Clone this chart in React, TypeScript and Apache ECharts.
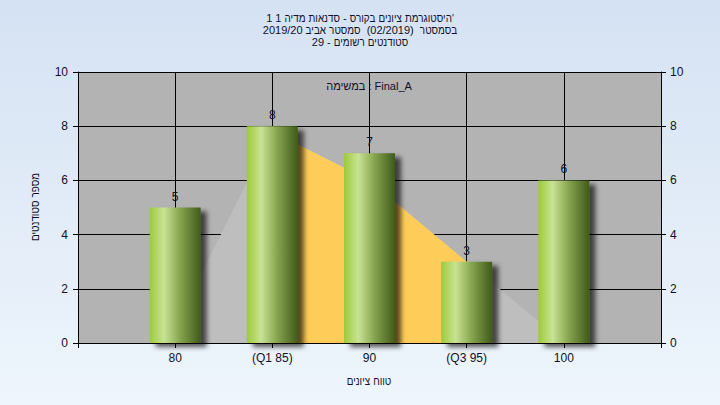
import React, { useEffect, useRef } from "react";
import * as echarts from "echarts";

// Text lines as tokens, listed in the left-to-right order in which they are drawn
// (the reference lays its Hebrew out right to left).
const titleLine1 = ["1", "1", "מדיה", "סדנאות", "-", "בקורס", "ציונים", "היסטוגרמת'"];
const titleLine2 = ["2019/20", "אביב", "סמסטר", "", "(02/2019)", "", "בסמסטר"];
const titleLine3 = ["29", "-", "רשומים", "סטודנטים"];
const legendText = "במשימה : Final_A";
const xAxisNameWords = ["ציונים", "טווח"];
const yAxisNameWords = ["סטודנטים", "מספר"];

const gradeValues = [80, 85, 90, 95, 100];
const gradeLabels = ["80", "(Q1 85)", "90", "(Q3 95)", "100"];
const studentCounts = [5, 8, 7, 3, 6];
const curveValues = [0.64, 7.8, 6.0, 3.0, 0.03];
const iqrGrades = [85, 90, 95];

const FONT = "Liberation Sans";
const TXT = "#10102a";
const HEB_SCALE = 0.9;

function wordRow(
  ctx: CanvasRenderingContext2D,
  words: string[],
  fontSize: number,
  cx: number,
  cy: number
) {
  ctx.font = `${fontSize}px "${FONT}"`;
  const space = ctx.measureText(" ").width;
  const isHeb = (w: string) => /[\u0590-\u05FF]/.test(w);
  const widths = words.map((w) => ctx.measureText(w).width * (isHeb(w) ? HEB_SCALE : 1));
  const total = widths.reduce((a, b) => a + b, 0) + space * (words.length - 1);
  let x = cx - total / 2;
  const out: any[] = [];
  words.forEach((w, i) => {
    if (w) {
      out.push({
        type: "text",
        x,
        y: cy,
        z: 100,
        scaleX: isHeb(w) ? HEB_SCALE : 1,
        style: {
          text: w,
          fontSize,
          fontFamily: FONT,
          fill: TXT,
          textAlign: "left",
          textVerticalAlign: "middle",
        },
      });
    }
    x += widths[i] + space;
  });
  return out;
}

export default function App() {
  const ref = useRef<HTMLDivElement>(null);
  useEffect(() => {
    if (!ref.current) return;
    const chart = echarts.init(ref.current, null, { renderer: "svg" });
    const ctx = document.createElement("canvas").getContext("2d") as CanvasRenderingContext2D;
    const labelMap: Record<string, string> = {};
    gradeValues.forEach((g, i) => (labelMap[String(g)] = gradeLabels[i]));
    const curveData = gradeValues.map((g, i) => [g, curveValues[i]]);
    const iqrData = gradeValues
      .map((g, i) => [g, curveValues[i]])
      .filter((d) => iqrGrades.includes(d[0]));
    const barData = gradeValues.map((g, i) => [g, studentCounts[i]]);

    const graphics: any[] = [
      ...wordRow(ctx, titleLine1, 11, 360, 18),
      ...wordRow(ctx, titleLine2, 11, 360, 30),
      ...wordRow(ctx, titleLine3, 11, 360, 42),
      ...wordRow(ctx, xAxisNameWords, 11, 369, 381),
      {
        type: "group",
        x: 35,
        y: 207,
        rotation: Math.PI / 2,
        children: wordRow(ctx, yAxisNameWords, 11, 0, 0),
      },
      {
        type: "text",
        x: 369,
        y: 86,
        z: 100,
        style: {
          text: legendText,
          fontSize: 11,
          fontFamily: FONT,
          fill: TXT,
          textAlign: "center",
          textVerticalAlign: "middle",
        },
      },
    ];

    chart.setOption({
      animation: false,
      backgroundColor: "transparent",
      textStyle: { fontFamily: FONT },
      graphic: graphics,
      grid: {
        left: 78,
        right: 59,
        top: 72,
        bottom: 62,
        show: true,
        backgroundColor: "#b3b3b3",
        borderWidth: 0,
      },
      xAxis: {
        type: "value",
        min: 75,
        max: 105,
        interval: 5,
        axisLine: { show: true, lineStyle: { color: "#000", width: 1 } },
        axisTick: { show: true, length: 5, lineStyle: { color: "#000" } },
        axisLabel: {
          margin: 9,
          fontSize: 12,
          color: TXT,
          fontFamily: FONT,
          formatter: (v: number) => labelMap[String(v)] ?? "",
        },
        splitLine: { show: true, lineStyle: { color: "#000", width: 1 } },
      },
      yAxis: [
        {
          type: "value",
          min: 0,
          max: 10,
          interval: 2,
          position: "left",
          axisLine: { show: true, lineStyle: { color: "#000", width: 1 } },
          axisTick: { show: true, length: 5, lineStyle: { color: "#000" } },
          axisLabel: { margin: 10, fontSize: 12, color: TXT, fontFamily: FONT },
          splitLine: { show: true, lineStyle: { color: "#000", width: 1 } },
        },
        {
          type: "value",
          min: 0,
          max: 10,
          interval: 2,
          position: "right",
          axisLine: { show: true, lineStyle: { color: "#000", width: 1 } },
          axisTick: { show: true, length: 5, lineStyle: { color: "#000" } },
          axisLabel: { margin: 9, fontSize: 12, color: TXT, fontFamily: FONT },
          splitLine: { show: false },
        },
      ],
      series: [
        {
          type: "line",
          data: curveData,
          symbol: "none",
          lineStyle: { width: 0 },
          areaStyle: { color: "#bebebe", opacity: 1 },
          z: 1,
        },
        {
          type: "line",
          data: iqrData,
          symbol: "none",
          lineStyle: { width: 0 },
          areaStyle: { color: "#fecc58", opacity: 1 },
          z: 2,
        },
        {
          type: "bar",
          data: barData,
          barWidth: 51,
          z: 3,
          itemStyle: {
            color: {
              type: "linear",
              x: 0,
              y: 0,
              x2: 1,
              y2: 0,
              colorStops: [
                { offset: 0, color: "#9dca3a" },
                { offset: 0.28, color: "#c8e394" },
                { offset: 0.6, color: "#86a44e" },
                { offset: 1, color: "#405a1a" },
              ],
            },
            shadowColor: "rgba(0,0,0,0.65)",
            shadowBlur: 5,
            shadowOffsetX: 6,
            shadowOffsetY: 4,
          },
          label: {
            show: true,
            position: "top",
            distance: 5,
            fontSize: 12,
            color: TXT,
            fontFamily: FONT,
          },
        },
      ],
    });
    return () => chart.dispose();
  }, []);
  return (
    <div
      style={{
        position: "absolute",
        left: 0,
        top: 0,
        width: 720,
        height: 405,
        background: "linear-gradient(to bottom, #d5e2f3, #eef5fc)",
      }}
    >
      <div ref={ref} style={{ width: 720, height: 405 }} />
    </div>
  );
}
